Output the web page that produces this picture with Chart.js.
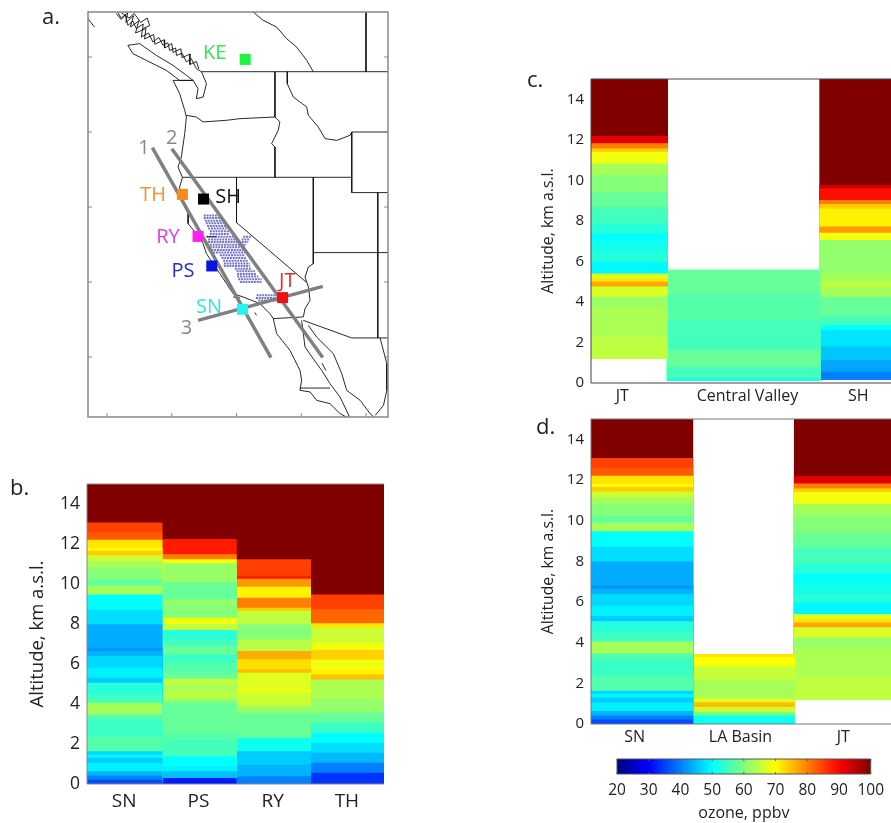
<!DOCTYPE html>
<html>
<head>
<meta charset="utf-8">
<title>Ozone profiles</title>
<script src="https://cdn.jsdelivr.net/npm/chart.js@4"></script>
<style>
  html, body { margin: 0; padding: 0; background: #fff; }
  #page { position: relative; width: 891px; height: 823px; overflow: hidden; }
  #page canvas { position: absolute; filter: blur(0.5px); }
  .letter { position: absolute; font: 22px "Open Sans", sans-serif; color: #222; }
</style>
</head>
<body>
<div id="page">
  <canvas id="mapChart" width="400" height="430" style="left:0;top:0"></canvas>
  <canvas id="chartB" width="400" height="358" style="left:0;top:465px"></canvas>
  <canvas id="chartC" width="361" height="360" style="left:530px;top:60px"></canvas>
  <canvas id="chartD" width="361" height="365" style="left:530px;top:400px"></canvas>
  <canvas id="colorBar" width="311" height="78" style="left:580px;top:745px"></canvas>
  <div class="letter" style="left:42px;top:0">a.</div>
  <div class="letter" style="left:10px;top:471px">b.</div>
  <div class="letter" style="left:527px;top:63px">c.</div>
  <div class="letter" style="left:536px;top:410px">d.</div>
</div>

<script>
// ozone profiles. tops = top of each layer in km, bottom to top
const snTops = [0.2,0.4,0.62,1.04,1.29,1.45,1.62,2.37,3.2,3.46,4.04,4.46,5.04,5.3,5.8,6.38,6.63,6.8,7.97,8.7,9.46,9.89,10.2,10.8,11.13,11.42,11.64,11.8,12.19,12.59,13.06,15];
const snOzone = [36,40,44,49,46,49.5,47,56.5,54.5,56.5,63,55,53,46,49,47,44,41.5,43.5,47.5,50,63,57.5,60.5,63,66,74,70,72,83,85,100];
const psTops = [0.28,0.62,0.87,1.37,2.2,2.54,3.54,4.04,4.21,4.63,5.04,5.24,5.55,6.05,6.46,6.88,7.22,7.68,7.97,8.3,8.89,9.22,9.64,10.06,11.02,11.22,11.47,12.23,15];
const psOzone = [32,45,49,50,55.3,56.7,58,58,60.5,64.5,63.5,66,58,56.7,54.5,58,55.3,53,65,69,60.5,61.5,58,58,62,69,80,88,100];
const ryTops = [0.37,0.95,1.62,2.28,3.54,3.88,4.54,4.71,5.55,5.72,6.22,6.63,7.22,7.97,8.63,8.8,9.3,9.85,10.25,10.39,11.22,15];
const ryOzone = [40,44,46,51,58,62,66,69,67.5,75,72.5,76.5,64.5,60.5,65,74,80,71,78,88,85,100];
const thTops = [0.54,1.04,1.54,2.04,2.54,3.04,3.54,4.21,5.21,5.46,5.72,6.2,6.7,7.05,7.8,8.02,8.72,9.46,15];
const thOzone = [34,40,44.5,47.5,50,54.5,58,61.5,63.5,75,71,69,73.5,69,66,72,82,85,100];
const jtBase = 1.2;
const jtTops = [2.27,3.75,4.24,4.74,4.98,5.15,5.39,5.97,6.38,6.96,7.37,7.86,8.68,9.39,10.25,10.82,11.4,11.56,11.81,12.17,15];
const jtOzone = [65,63.5,62,67,77,72,67,49.5,53,51.5,50,53,55.3,58,60.5,63,69,74,80,92,100];
const cvBase = 0.13;
const cvTops = [0.21,0.79,1.61,3.09,4.4,5.59];
const cvOzone = [51,55.3,58,55.3,56.7,58];
const shBase = 0.16;
const shTops = [0.54,1.12,1.78,2.6,2.85,3.26,4.24,4.74,4.98,5.39,7.04,7.4,7.7,8.6,8.82,9.01,9.59,9.75,15];
const shOzone = [40,43,45.5,48,50,55.3,58,63,65,63,61.5,69,78,71,74,80,89,94,100];
const laTops = [0.39,0.56,0.82,1.05,1.26,2.16,2.82,3.28,3.43];
const laOzone = [51,58,66,75,67,63,65.5,70,72];

const altitudeTicks = [0,2,4,6,8,10,12,14];
const panelBLabels = ['SN','PS','RY','TH'];
const panelBPos = [0.5,1.5,2.5,3.5];
const panelCLabels = ['JT','Central Valley','SH'];
const panelCPos = [0.41,2.05,3.5];
const panelDLabels = ['SN','LA Basin','JT'];
const panelDPos = [0.43,1.47,2.48];
const colorTicks = [20,30,40,50,60,70,80,90,100];

// map: lon, lat
const lonTicks = [-130,-125,-120,-115,-110];
const latTicks = [50,45,40,35,30];
const sites = ['KE','TH','SH','RY','PS','SN','JT'];
const siteLon = [-119.33,-124.18,-122.55,-122.97,-121.91,-119.54,-116.44];
const siteLat = [49.84,40.84,40.53,38.04,36.07,33.18,33.96];
const siteColors = ['#1bf53b','#f58a1f','#000000','#ff22ee','#0a14e0','#22f5f5','#ee1111'];
const siteTextLon = [-121.68,-126.45,-120.65,-125.29,-124.13,-122.12,-116.08];
const siteTextLat = [50.27,40.78,40.67,37.96,35.73,33.33,35.04];
const siteTextColors = ['#33e84f','#f0923a','#111111','#e83be0','#2230c4','#2ce8ea','#e62a2a'];
const lineNames = ['1','2','3'];
const lineTextLon = [-127.15,-125.0,-123.87];
const lineTextLat = [43.89,44.56,31.89];
const transect1 = [[-126.5,43.96],[-117.34,29.96]];
const transect2 = [[-125.0,43.89],[-113.34,29.96]];
const transect3 = [[-122.97,32.44],[-113.34,34.71]];

const coastBC = [[-129.29,52.89],[-128.9,52.5],[-128.6,52.8],[-128.39,52.11],[-128.0,52.4],[-127.74,51.89],[-127.2,52.2],[-127.35,51.33],[-126.8,51.6],[-126.45,51.0],[-126.0,51.3],[-125.68,50.78],[-125.3,50.95],[-125.16,50.44],[-124.7,50.6],[-124.64,50.11],[-124.2,50.25],[-123.87,49.67],[-123.5,49.9],[-123.1,49.22],[-122.71,49.02],[-122.32,48.22],[-122.58,47.33],[-123.1,47.22],[-122.97,47.89],[-123.35,48.44],[-124.9,48.44]];
const fjordsA = [[-129.2,53],[-128.9,52.6],[-128.4,52.95],[-128.55,52.3],[-127.95,52.75],[-128.2,52.0],[-127.55,52.4],[-127.8,51.6],[-127.0,51.9],[-127.1,51.2],[-126.4,51.5],[-126.3,50.85],[-125.6,51.15],[-125.55,50.6],[-125.0,50.9],[-124.9,50.3],[-124.3,50.55],[-124.2,49.95],[-123.6,50.2],[-123.6,49.5],[-123.1,49.7],[-122.9,49.2]];
const fjordsB = [[-128.9,52.95],[-128.3,52.6],[-127.9,52.9],[-127.4,52.3],[-126.9,52.6],[-126.7,52.1],[-127.2,51.9]];
const vancouverIsland = [[-128.39,50.78],[-127.48,50.89],[-126.19,50.11],[-124.9,49.44],[-123.87,48.78],[-123.35,48.44],[-124.39,48.44],[-125.42,49.11],[-126.97,49.78],[-128.0,50.22],[-128.39,50.78]];
const haidaGwaii = [[-131.48,52.56],[-130.97,52.0]];
const coastWest = [[-124.9,48.44],[-124.39,47.56],[-124.0,46.44],[-123.87,46.0],[-124.0,44.89],[-124.26,43.33],[-124.52,42.67],[-124.18,41.98],[-124.39,41.33],[-124.26,40.44],[-123.74,39.56],[-123.74,38.89],[-123.1,38.22],[-122.58,37.56],[-122.32,36.89],[-121.81,36.22],[-121.29,35.56],[-120.77,34.89],[-120.26,34.22],[-119.48,34.0],[-118.19,33.56],[-117.42,32.89],[-117.16,32.56],[-116.9,31.56],[-115.87,30.44],[-115.1,29.11],[-114.97,28.44],[-115.1,27.78],[-114.32,27.67],[-113.81,27.11],[-112.78,26.89],[-112.0,26.22],[-111.36,25.93]];
const gulfWest = [[-114.97,32.44],[-114.84,31.56],[-114.71,30.67],[-113.81,29.56],[-113.42,29.11],[-112.78,28.22],[-112.0,27.33],[-111.23,25.93]];
const gulfEast = [[-114.45,32.11],[-113.81,31.33],[-112.52,30.22],[-111.87,28.89],[-111.49,27.78],[-110.45,27.11],[-109.68,26.22],[-109.29,25.93]];
const sonoraEdge = [[-108.91,31.27],[-108.39,29.56],[-108.39,27.78],[-108.65,26.78],[-109.29,26.11]];
const bajaLine = [[-115.1,27.93],[-112.78,27.93]];
const guardaIsland = [[-113.4,29.6],[-113.1,29.1]];
const sfBay = [[-122.32,38.02],[-121.55,38.02]];
const channelIsA = [[-120.26,34.0],[-119.74,33.96]];
const channelIsB = [[-118.58,32.96],[-118.45,32.78]];
const lat49 = [[-122.71,49.02],[-108.31,49.02]];
const bcAlberta = [[-118.71,53],[-117.94,52.44],[-116.9,52],[-116.13,51.22],[-115.36,50.67],[-114.58,49.78],[-114.07,49.02]];
const abSask = [[-110,53],[-110,49.02]];
const columbia = [[-123.87,46.11],[-123.1,46.0],[-122.58,45.67],[-120.77,45.78],[-119.74,45.89],[-117.03,46.0]];
const waIdOr = [[-117.03,49.02],[-117.03,46.0],[-116.65,45.67],[-116.78,45.11],[-117.29,44.22],[-117.03,44.0],[-117.03,41.98]];
const idMt = [[-116.08,49.02],[-116.08,48.22],[-115.61,47.33],[-114.58,46.67],[-114.45,46.11],[-113.68,45.33],[-113.16,44.56],[-112.26,44.44],[-111.23,44.78],[-111.1,45]];
const wyoming = [[-108.31,45],[-111.1,45],[-111.1,40.96],[-108.31,40.96]];
const lat42 = [[-124.18,41.98],[-111.1,41.98]];
const nevadaWest = [[-120,41.98],[-120,38.96],[-114.63,35]];
const utahWest = [[-114.07,41.98],[-114.07,36.22],[-114.45,36.0],[-114.71,35.33],[-114.45,34.67],[-114.32,33.78],[-114.71,33.22],[-114.84,32.67]];
const lat37 = [[-114.07,36.96],[-108.31,36.96]];
const lon109 = [[-109.09,40.96],[-109.09,31.27]];
const caMexico = [[-117.16,32.56],[-114.84,32.67]];
const azMexico = [[-114.84,32.44],[-111.1,31.27],[-108.31,31.27]];
const mapLines = [coastBC,fjordsA,fjordsB,vancouverIsland,haidaGwaii,coastWest,gulfWest,gulfEast,sonoraEdge,bajaLine,guardaIsland,sfBay,channelIsA,channelIsB,lat49,bcAlberta,abSask,columbia,waIdOr,idMt,wyoming,lat42,nevadaWest,utahWest,lat37,lon109,caMexico,azMexico];

// model grid cells of the valley and basin: lat, first lon, last lon
const valleyRows = [[39.44,-122.53,-121.29],[39.27,-122.53,-121.16],[39.09,-122.45,-121.03],[38.91,-122.37,-120.98],[38.73,-122.27,-120.83],[38.56,-122.19,-120.77],[38.38,-122.06,-120.52],[38.2,-122.06,-120.52],[38.02,-122.32,-120.26],[38.02,-119.48,-118.84],[37.84,-122.19,-120.0],[37.84,-119.61,-118.97],[37.67,-122.19,-119.1],[37.49,-122.06,-119.23],[37.31,-122.06,-119.35],[37.13,-121.94,-119.48],[36.96,-121.81,-119.35],[36.78,-121.29,-119.35],[36.6,-121.16,-119.23],[36.42,-121.03,-119.1],[36.24,-120.98,-118.97],[36.07,-120.98,-118.97],[35.89,-120.13,-118.84],[35.71,-120.0,-118.58],[35.53,-119.95,-118.45],[35.36,-119.95,-118.32],[35.18,-119.87,-118.06],[35.0,-119.74,-118.06],[34.11,-118.45,-116.9],[33.93,-118.5,-116.9],[33.76,-118.32,-116.9]];

const fontName = '"Open Sans", sans-serif';

// matlab jet over 20-100 ppbv
function jet(v) {
  const t = (v - 20) / 80;
  const r = Math.min(4 * t - 1.5, -4 * t + 4.5);
  const g = Math.min(4 * t - 0.5, -4 * t + 3.5);
  const b = Math.min(4 * t + 0.5, -4 * t + 2.5);
  const c = x => Math.round(255 * Math.max(0, Math.min(1, x)));
  return `rgb(${c(r)},${c(g)},${c(b)})`;
}

// every layer runs from the column base up to its top, lowest layer painted last, so no seams show
function columnBands(xPos, base, tops, ozone, thickness) {
  return tops.map((top, i) => ({
    data: [{x: xPos, y: [base, top]}],
    backgroundColor: jet(ozone[i]),
    stack: 'all',
    barThickness: thickness,
    borderWidth: 0
  }));
}

const framePlugin = {
  id: 'frame',
  afterDraw(chart, args, opts) {
    if (!opts.color) return;
    const a = chart.chartArea;
    const ctx = chart.ctx;
    ctx.save();
    ctx.strokeStyle = opts.color;
    ctx.lineWidth = opts.width || 1;
    ctx.beginPath();
    ctx.moveTo(a.right, a.top);
    ctx.lineTo(a.left, a.top);
    ctx.lineTo(a.left, a.bottom);
    ctx.lineTo(a.right, a.bottom);
    if (opts.closed) ctx.closePath();
    if (opts.marks) {
      opts.marks.forEach(v => {
        const px = chart.scales.x.getPixelForValue(v);
        ctx.moveTo(px, a.top);
        ctx.lineTo(px, a.top + 2);
        ctx.moveTo(px, a.bottom);
        ctx.lineTo(px, a.bottom - 2);
      });
    }
    ctx.stroke();
    ctx.restore();
  }
};

function profileChart(id, bands, xMax, tickPos, tickLabels, opts) {
  return new Chart(document.getElementById(id), {
    type: 'bar',
    data: {datasets: bands},
    options: {
      responsive: false,
      animation: false,
      layout: {padding: {left: opts.left, top: opts.top, right: opts.right, bottom: 0}},
      plugins: {legend: {display: false}, tooltip: {enabled: false}, frame: {color: opts.frame}},
      scales: {
        x: {
          type: 'linear', stacked: true, offset: false, min: 0, max: xMax,
          grid: {display: false, drawTicks: false},
          border: {display: false},
          afterBuildTicks: s => { s.ticks = tickPos.map(v => ({value: v})); },
          afterFit: s => { s.height = opts.bottom; },
          ticks: {
            autoSkip: false, maxRotation: 0, padding: opts.tickPad, color: '#222',
            font: {family: fontName, size: opts.labelSize},
            callback: (v, i) => tickLabels[i]
          }
        },
        y: {
          type: 'linear', stacked: false, min: 0, max: 15,
          grid: {display: false, drawTicks: false},
          border: {display: false},
          afterBuildTicks: s => { s.ticks = altitudeTicks.map(v => ({value: v})); },
          afterFit: s => { s.width = opts.axisWidth; },
          ticks: {padding: 7, color: '#222', font: {family: fontName, size: opts.tickSize}},
          title: {
            display: true, text: 'Altitude, km a.s.l.', color: '#222', padding: 0,
            font: {family: fontName, size: opts.titleSize}
          }
        }
      }
    },
    plugins: [framePlugin]
  });
}

profileChart('chartB',
  [].concat(
    columnBands(0.5, 0, snTops, snOzone, 76),
    columnBands(1.5, 0, psTops, psOzone, 76),
    columnBands(2.5, 0, ryTops, ryOzone, 76),
    columnBands(3.5, 0, thTops, thOzone, 76)),
  4, panelBPos, panelBLabels,
  {left: 27, top: 19, right: 16, bottom: 39, axisWidth: 60, tickPad: 6, labelSize: 19, tickSize: 17.5, titleSize: 18.5, frame: '#888'});

profileChart('chartC',
  [].concat(
    columnBands(0.5, jtBase, jtTops, jtOzone, 77),
    columnBands(2, cvBase, cvTops, cvOzone, 153),
    columnBands(3.5, shBase, shTops, shOzone, 77)),
  3.93, panelCPos, panelCLabels,
  {left: 9, top: 19, right: 0, bottom: 37, axisWidth: 52, tickPad: 4, labelSize: 16, tickSize: 15, titleSize: 15.8, frame: '#444'});

profileChart('chartD',
  [].concat(
    columnBands(0.5, 0, snTops, snOzone, 102),
    columnBands(1.5, 0, laTops, laOzone, 102),
    columnBands(2.5, jtBase, jtTops, jtOzone, 102)),
  2.95, panelDPos, panelDLabels,
  {left: 9, top: 19, right: 0, bottom: 41, axisWidth: 52, tickPad: 4, labelSize: 16, tickSize: 15, titleSize: 15.8, frame: '#777'});

// colour bar: one horizontal bar filled with the jet ramp
new Chart(document.getElementById('colorBar'), {
  type: 'bar',
  data: {
    labels: ['ozone'],
    datasets: [{
      data: [[colorTicks[0], colorTicks[colorTicks.length - 1]]],
      borderWidth: 0,
      categoryPercentage: 1,
      barPercentage: 1,
      backgroundColor(ctx) {
        const a = ctx.chart.chartArea;
        if (!a) return '#000';
        const g = ctx.chart.ctx.createLinearGradient(a.left, 0, a.right, 0);
        [20,30,50,70,90,100].forEach(v => g.addColorStop((v - 20) / 80, jet(v)));
        return g;
      }
    }]
  },
  options: {
    indexAxis: 'y',
    responsive: false,
    animation: false,
    layout: {padding: {left: 37, top: 14, right: 20, bottom: 0}},
    plugins: {legend: {display: false}, tooltip: {enabled: false}, frame: {color: '#555', closed: true, marks: colorTicks}},
    scales: {
      y: {display: false},
      x: {
        type: 'linear', min: 20, max: 100,
        grid: {display: false, drawTicks: false},
        border: {display: false},
        afterBuildTicks: s => { s.ticks = colorTicks.map(v => ({value: v})); },
        afterFit: s => { s.height = 49; },
        ticks: {padding: 7, color: '#222', font: {family: fontName, size: 15.5}, maxRotation: 0, autoSkip: false},
        title: {display: true, text: 'ozone, ppbv', color: '#222', padding: 0, font: {family: fontName, size: 16}}
      }
    }
  },
  plugins: [framePlugin]
});

// small plugin for map ticks (inside the box) and the station names
const mapDecor = {
  id: 'mapDecor',
  afterDraw(chart) {
    const {ctx, chartArea: a, scales: {x, y}} = chart;
    ctx.save();
    ctx.strokeStyle = '#888';
    ctx.lineWidth = 1;
    ctx.beginPath();
    lonTicks.forEach(v => {
      const px = x.getPixelForValue(v);
      ctx.moveTo(px, a.bottom);
      ctx.lineTo(px, a.bottom - 4);
    });
    latTicks.forEach(v => {
      const py = y.getPixelForValue(v);
      ctx.moveTo(a.left, py);
      ctx.lineTo(a.left + 4, py);
      ctx.moveTo(a.right, py);
      ctx.lineTo(a.right - 4, py);
    });
    ctx.stroke();
    ctx.strokeStyle = '#888';
    ctx.lineWidth = 1.5;
    ctx.strokeRect(a.left, a.top, a.right - a.left, a.bottom - a.top);
    ctx.font = '20px ' + fontName;
    ctx.textAlign = 'center';
    ctx.textBaseline = 'middle';
    sites.forEach((s, i) => {
      ctx.fillStyle = siteTextColors[i];
      ctx.fillText(s, x.getPixelForValue(siteTextLon[i]), y.getPixelForValue(siteTextLat[i]));
    });
    ctx.fillStyle = '#888';
    lineNames.forEach((s, i) => {
      ctx.fillText(s, x.getPixelForValue(lineTextLon[i]), y.getPixelForValue(lineTextLat[i]));
    });
    ctx.restore();
  }
};

const toXY = pts => pts.map(p => ({x: p[0], y: p[1]}));

const mapDatasets = [{
  data: siteLon.map((lon, i) => ({x: lon, y: siteLat[i]})),
  pointStyle: 'rect',
  pointRadius: 7.8,
  pointBackgroundColor: siteColors,
  pointBorderWidth: 0,
  showLine: false
}];
[transect1, transect2, transect3].forEach(t => {
  mapDatasets.push({data: toXY(t), showLine: true, pointRadius: 0, borderColor: '#808080', borderWidth: 3.5});
});
mapLines.forEach(l => {
  mapDatasets.push({data: toXY(l), showLine: true, pointRadius: 0, borderColor: '#111', borderWidth: 0.9});
});
valleyRows.forEach(r => {
  mapDatasets.push({
    data: [{x: r[1], y: r[0]}, {x: r[2], y: r[0]}],
    showLine: true, pointRadius: 0,
    borderColor: '#7474c4', borderWidth: 2, borderDash: [2, 0.8]
  });
});

new Chart(document.getElementById('mapChart'), {
  type: 'scatter',
  data: {datasets: mapDatasets},
  options: {
    responsive: false,
    animation: false,
    layout: {padding: {left: 88, top: 12, right: 12, bottom: 13}},
    plugins: {legend: {display: false}, tooltip: {enabled: false}},
    scales: {
      x: {type: 'linear', display: false, min: -131.47, max: -108.3},
      y: {type: 'linear', display: false, min: 26, max: 53}
    }
  },
  plugins: [mapDecor]
});
</script>
</body>
</html>
